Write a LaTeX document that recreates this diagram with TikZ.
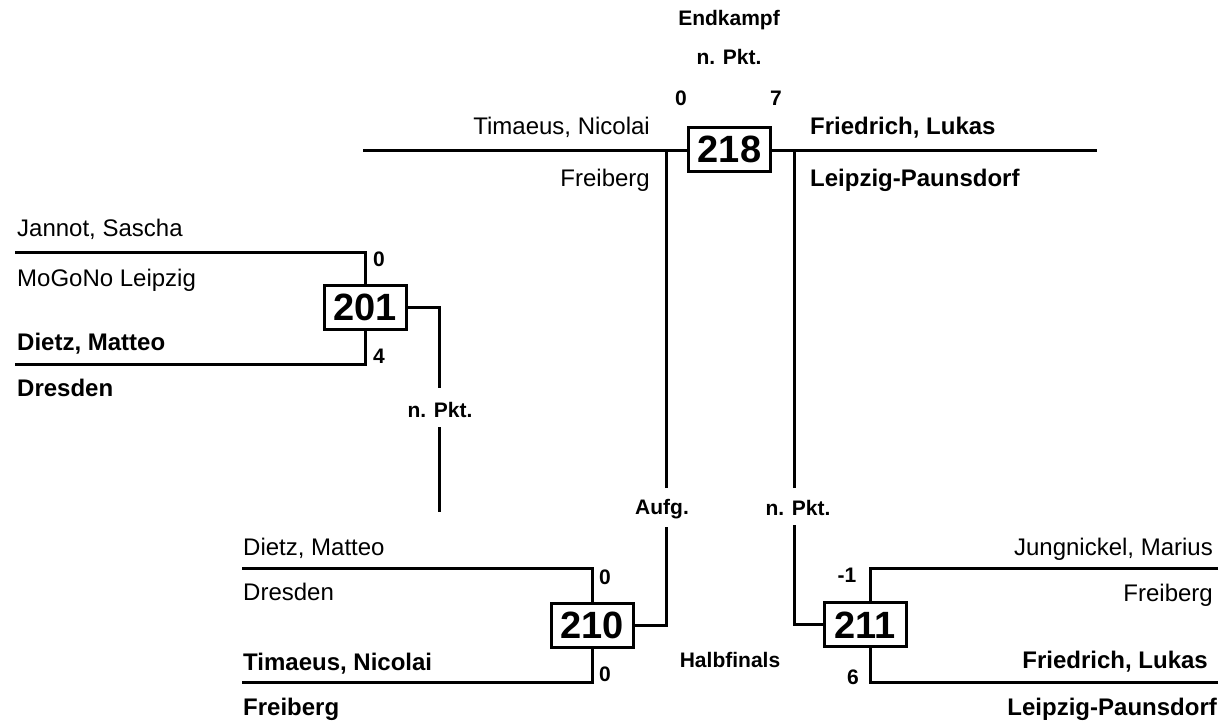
\documentclass[tikz,border=0pt]{standalone}
\usepackage{fontspec}
\setmainfont{Liberation Sans}
\begin{document}
\begin{tikzpicture}[x=1pt,y=-1pt,
  ln/.style={line width=3pt},
  nm/.style={inner sep=0pt, font=\fontsize{24}{24}\selectfont, text height=17.2pt, text depth=0pt},
  nmb/.style={inner sep=0pt, font=\fontsize{24}{24}\selectfont\bfseries, text height=17.2pt, text depth=0pt},
  lbl/.style={inner sep=0pt, font=\fontsize{21}{21}\selectfont\bfseries, text height=15pt, text depth=0pt},
  matchbox/.style={draw, line width=3pt, minimum width=82pt, minimum height=44pt, inner sep=0pt,
    font=\fontsize{38}{38}\selectfont\bfseries, text height=27.2pt, text depth=0pt}]
\useasboundingbox (0,0) rectangle (1225,724);

% boxes
\node[matchbox] (b201) at (365,307) {201};
\node[matchbox] (b218) at (729.5,149) {218};
\node[matchbox] (b210) at (592,625) {210};
\node[matchbox] (b211) at (865,624.5) {211};

% coordinates
\coordinate (a1) at (15,252);
\coordinate (a2) at (15,364);
\coordinate (w1) at (439,388);
\coordinate (w2) at (439,427);
\coordinate (w3) at (439,512);
\coordinate (c1) at (242,568);
\coordinate (c2) at (242,682);
\coordinate (d1) at (1218,568);
\coordinate (d2) at (1218,682);
\coordinate (v211) at (870,0);
\coordinate (f1) at (363,150);
\coordinate (f2) at (1097,150);
\coordinate (g1) at (666,150);
\coordinate (g2) at (666,488);
\coordinate (g3) at (666,527);
\coordinate (h1) at (794,150);
\coordinate (h2) at (794,488);
\coordinate (h3) at (794,525);

% match 201
\draw[ln] (a1) -| (b201.north);
\draw[ln] (a2) -| (b201.south);
\draw[ln] (b201.east) -| (w1);
\draw[ln] (w2) -- (w3);

% match 210
\draw[ln] (c1) -| (b210.north);
\draw[ln] (c2) -| (b210.south);
\draw[ln] (b210.east) -| (g3);
\draw[ln] (g2) -- (g1);

% match 211
\draw[ln] (d1) -- (d1 -| v211) -- (b211.north -| v211);
\draw[ln] (d2) -- (d2 -| v211) -- (b211.south -| v211);
\draw[ln] (b211.west) -| (h3);
\draw[ln] (h2) -- (h1);

% final
\draw[ln] (f1) -- (f1 -| b218.west);
\draw[ln] (f2 -| b218.east) -- (f2);

% labels final
\node[lbl] (t1) at (729,18) {Endkampf};
\node[lbl] (t2) at (729,57) {n. Pkt.};
\node[lbl] (t3) at (681,98) {0};
\node[lbl] (t4) at (776,98) {7};
\node[nm, anchor=east] (t5) at (650,126) {Timaeus, Nicolai};
\node[nm, anchor=east] (t6) at (650,178) {Freiberg};
\node[nmb, anchor=west] (t7) at (810,126) {Friedrich, Lukas};
\node[nmb, anchor=west] (t8) at (810,178) {Leipzig-Paunsdorf};

% labels 201
\node[nm, anchor=west] (s1) at (17,228) {Jannot, Sascha};
\node[nm, anchor=west] (s2) at (17,278) {MoGoNo Leipzig};
\node[nmb, anchor=west] (s3) at (17,342) {Dietz, Matteo};
\node[nmb, anchor=west] (s4) at (17,388) {Dresden};
\node[lbl] (s5) at (379,259) {0};
\node[lbl] (s6) at (379,356) {4};
\node[lbl] (s7) at (440,410) {n. Pkt.};

% labels 210
\node[nm, anchor=west] (u1) at (243,547) {Dietz, Matteo};
\node[nm, anchor=west] (u2) at (243,592) {Dresden};
\node[nmb, anchor=west] (u3) at (243,662) {Timaeus, Nicolai};
\node[nmb, anchor=west] (u4) at (243,707) {Freiberg};
\node[lbl] (u5) at (605,577) {0};
\node[lbl] (u6) at (605,674) {0};
\node[lbl] (u7) at (662,507) {Aufg.};
\node[lbl] (u8) at (798,508) {n. Pkt.};
\node[lbl] (u9) at (730,660) {Halbfinals};

% labels 211
\node[nm, anchor=east] (r1) at (1213,547) {Jungnickel, Marius};
\node[nm, anchor=east] (r2) at (1213,593) {Freiberg};
\node[nmb, anchor=east] (r3) at (1208,660) {Friedrich, Lukas};
\node[nmb, anchor=east] (r4) at (1217,707) {Leipzig-Paunsdorf};
\node[lbl] (r5) at (847,575) {-1};
\node[lbl] (r6) at (853,677) {6};
\end{tikzpicture}
\end{document}
